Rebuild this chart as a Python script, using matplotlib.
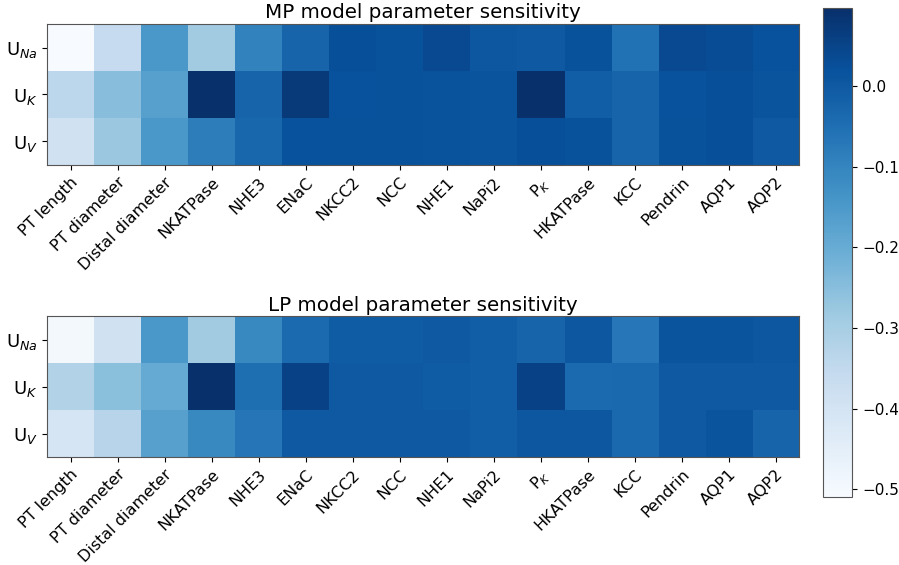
import numpy as np
import matplotlib
matplotlib.use("Agg")
import matplotlib.pyplot as plt
from matplotlib.colors import Normalize

params = ["PT length", "PT diameter", "Distal diameter", "NKATPase", "NHE3", "ENaC",
          "NKCC2", "NCC", "NHE1", "NaPi2", "P$_K$", "HKATPase", "KCC", "Pendrin",
          "AQP1", "AQP2"]
outputs = ["U$_{Na}$", "U$_K$", "U$_V$"]

# sensitivity of each output (rows) to each parameter (columns)
mp_una = [-0.51, -0.36, -0.146, -0.29, -0.097, -0.024, 0.024, 0.018, 0.036, 0.006,
          0.000, 0.018, -0.055, 0.036, 0.030, 0.020]
mp_uk = [-0.34, -0.25, -0.17, 0.097, -0.024, 0.073, 0.020, 0.018, 0.015, 0.012,
         0.095, -0.012, -0.024, 0.020, 0.024, 0.012]
mp_uv = [-0.39, -0.28, -0.146, -0.085, -0.030, 0.020, 0.018, 0.018, 0.015, 0.012,
         0.024, 0.018, -0.024, 0.018, 0.024, 0.000]

lp_una = [-0.50, -0.39, -0.146, -0.29, -0.11, -0.040, -0.006, -0.006, 0.000, -0.012,
          -0.024, 0.006, -0.070, 0.012, 0.012, 0.006]
lp_uk = [-0.32, -0.255, -0.195, 0.097, -0.050, 0.055, 0.000, 0.000, -0.006, -0.012,
         0.055, -0.040, -0.035, 0.000, 0.000, 0.000]
lp_uv = [-0.41, -0.33, -0.17, -0.11, -0.067, 0.000, 0.000, 0.000, 0.000, -0.012,
         0.006, 0.006, -0.035, 0.000, 0.012, -0.024]

mp = np.array([mp_una, mp_uk, mp_uv])
lp = np.array([lp_una, lp_uk, lp_uv])

norm = Normalize(vmin=-0.51, vmax=0.097)
cmap = "Blues"

fig = plt.figure(figsize=(8.99, 5.65), dpi=100)
ax1 = fig.add_axes([0.0523, 0.708, 0.8365, 0.2495])
ax2 = fig.add_axes([0.0523, 0.191, 0.8365, 0.2495])
cax = fig.add_axes([0.9155, 0.120, 0.0325, 0.866])

for ax, data, title in [(ax1, mp, "MP model parameter sensitivity"),
                        (ax2, lp, "LP model parameter sensitivity")]:
    im = ax.imshow(data, cmap=cmap, norm=norm, aspect="auto")
    ax.set_title(title, fontsize=14.3, pad=4)
    ax.set_xticks(np.arange(len(params)))
    ax.set_xticklabels(params, rotation=45, ha="right", rotation_mode="anchor",
                       fontsize=11.5)
    ax.set_yticks(np.arange(len(outputs)))
    ax.set_yticklabels(outputs, fontsize=13)
    for s in ax.spines.values():
        s.set_color("#555555")

cb = fig.colorbar(im, cax=cax)
cb.set_ticks([0.0, -0.1, -0.2, -0.3, -0.4, -0.5])
cb.ax.tick_params(labelsize=11)
cb.outline.set_edgecolor("#555555")

fig.savefig("out.png", dpi=100)
